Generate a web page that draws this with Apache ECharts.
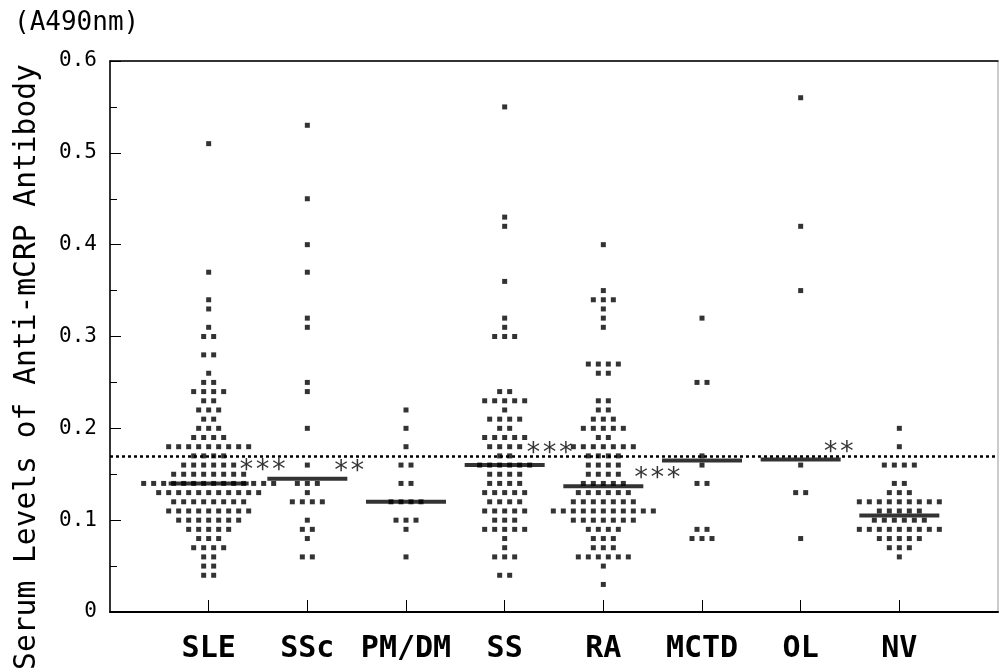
<!DOCTYPE html>
<html>
<head>
<meta charset="utf-8">
<script src="https://cdn.jsdelivr.net/npm/echarts@6/dist/echarts.min.js"></script>
<style>
html, body { margin: 0; padding: 0; background: #fff; }
#chart-container { width: 999px; height: 671px; }
</style>
</head>
<body>
<div id="chart-container"></div>
<script>
// groups along the x axis
var categories = ['SLE', 'SSc', 'PM/DM', 'SS', 'RA', 'MCTD', 'OL', 'NV'];

// each group: [A490nm level, number of subjects at that level]
var sle = [[0.51, 1], [0.37, 1], [0.34, 1], [0.33, 1], [0.31, 1], [0.30, 2], [0.28, 2], [0.26, 1],
    [0.25, 2], [0.24, 4], [0.23, 2], [0.22, 3], [0.21, 2], [0.20, 3], [0.19, 4], [0.18, 9],
    [0.17, 4], [0.16, 6], [0.15, 8], [0.14, 14], [0.13, 11], [0.12, 8], [0.11, 9], [0.10, 7],
    [0.09, 5], [0.08, 3], [0.07, 4], [0.06, 2], [0.05, 2], [0.04, 2]];
var ssc = [[0.53, 1], [0.45, 1], [0.40, 1], [0.37, 1], [0.32, 1], [0.31, 1], [0.25, 1], [0.24, 1],
    [0.20, 1], [0.16, 1], [0.14, 3], [0.13, 1], [0.12, 4], [0.10, 1], [0.09, 2], [0.08, 1], [0.06, 2]];
var pmdm = [[0.22, 1], [0.20, 1], [0.18, 1], [0.16, 2], [0.14, 2], [0.12, 4], [0.10, 3], [0.09, 1], [0.06, 1]];
var ss = [[0.55, 1], [0.43, 1], [0.42, 1], [0.36, 1], [0.32, 1], [0.31, 1], [0.30, 3], [0.24, 2],
    [0.23, 5], [0.22, 1], [0.21, 4], [0.20, 2], [0.19, 5], [0.18, 4], [0.17, 2], [0.16, 6],
    [0.15, 4], [0.14, 4], [0.13, 5], [0.12, 4], [0.11, 5], [0.10, 3], [0.09, 5], [0.08, 1],
    [0.07, 1], [0.06, 3], [0.04, 2]];
var ra = [[0.40, 1], [0.35, 1], [0.34, 3], [0.33, 1], [0.32, 1], [0.31, 1], [0.27, 4], [0.26, 2],
    [0.23, 2], [0.22, 2], [0.21, 3], [0.20, 5], [0.19, 2], [0.18, 7], [0.17, 4], [0.16, 4],
    [0.15, 4], [0.14, 5], [0.13, 6], [0.12, 7], [0.11, 11], [0.10, 7], [0.09, 4], [0.08, 3],
    [0.07, 3], [0.06, 6], [0.05, 1], [0.03, 1]];
var mctd = [[0.32, 1], [0.25, 2], [0.17, 1], [0.16, 1], [0.14, 2], [0.09, 2], [0.08, 3]];
var ol = [[0.56, 1], [0.42, 1], [0.35, 1], [0.16, 1], [0.13, 2], [0.08, 1]];
var nv = [[0.20, 1], [0.18, 1], [0.16, 4], [0.14, 2], [0.13, 3], [0.12, 9], [0.11, 5], [0.10, 6],
    [0.09, 9], [0.08, 5], [0.07, 3], [0.06, 1]];

var groups = [sle, ssc, pmdm, ss, ra, mctd, ol, nv];
var medians = [0.14, 0.145, 0.12, 0.16, 0.137, 0.165, 0.166, 0.105];
var cutoff = 0.17;

// significance marks and the level they sit at
var stars = ['***', '**', '', '***', '***', '', '**', ''];
var starLevels = [0.16, 0.159, null, 0.179, 0.151, null, 0.18, null];

// layout (pixels)
var starShift = [54, 42, 0, 45, 54, 0, 38, 0];
var dotGap = 10;

var dom = document.getElementById('chart-container');
var myChart = echarts.init(dom, null, { renderer: 'canvas' });

var mono = 'DejaVu Sans Mono';

var dots = [];
groups.forEach(function (g, i) {
    g.forEach(function (row) {
        var n = row[1];
        for (var k = 0; k < n; k++) {
            dots.push({
                value: [i, row[0]],
                symbolOffset: [(k - (n - 1) / 2) * dotGap, 0]
            });
        }
    });
});

var medianData = medians.map(function (m, i) { return [i, m]; });

var starData = [];
stars.forEach(function (s, i) {
    if (!s) return;
    starData.push({
        value: [i, starLevels[i]],
        label: { formatter: s, offset: [starShift[i], 6] }
    });
});

var ticks = categories.map(function (c, i) { return i; });

var option = {
    animation: false,
    grid: {
        left: 110, right: 1, top: 61, bottom: 59,
        show: true, borderColor: '#999', borderWidth: 1
    },
    xAxis: [{
        type: 'value',
        min: -1, max: 8,
        axisLine: { show: true, onZero: false, lineStyle: { color: '#000', width: 2 } },
        axisTick: { show: true, inside: true, length: 12, customValues: ticks, lineStyle: { color: '#000', width: 1 } },
        axisLabel: {
            customValues: ticks,
            formatter: function (v) { return categories[v]; },
            margin: 22,
            color: '#000',
            fontFamily: mono,
            fontWeight: 'bold',
            fontSize: 30
        },
        splitLine: { show: false }
    }, {
        type: 'value',
        position: 'top',
        min: -1, max: 8,
        axisLine: { show: true, onZero: false, lineStyle: { color: '#000', width: 1.5 } },
        axisTick: { show: false },
        axisLabel: { show: false },
        splitLine: { show: false }
    }],
    yAxis: {
        type: 'value',
        min: 0, max: 0.6, interval: 0.1,
        axisLine: { show: true, onZero: false, lineStyle: { color: '#000', width: 1.5 } },
        axisTick: { show: true, inside: true, length: 11, lineStyle: { color: '#000' } },
        minorTick: { show: true, splitNumber: 2, length: 7, lineStyle: { color: '#000' } },
        axisLabel: {
            color: '#000',
            fontFamily: mono,
            fontSize: 21,
            margin: 13,
            formatter: function (v) { return v === 0 ? '0' : v.toFixed(1); }
        },
        splitLine: { show: false }
    },
    graphic: [{
        type: 'text',
        left: 14, top: 10,
        style: { text: '(A490nm)', fontFamily: mono, fontSize: 26, fill: '#000' }
    }, {
        type: 'text',
        x: 27, y: 367,
        rotation: Math.PI / 2,
        style: {
            text: 'Serum Levels of Anti-mCRP Antibody',
            fontFamily: mono, fontSize: 29.6, fill: '#000',
            align: 'center', verticalAlign: 'middle'
        }
    }],
    series: [{
        name: 'subjects',
        type: 'scatter',
        symbol: 'rect',
        symbolSize: 5,
        itemStyle: { color: '#000' },
        data: dots,
        markLine: {
            silent: true,
            symbol: ['none', 'none'],
            label: { show: false },
            lineStyle: { color: '#000', type: [3, 3], width: 2.5 },
            data: [{ yAxis: cutoff }]
        }
    }, {
        name: 'median',
        type: 'scatter',
        symbol: 'rect',
        symbolSize: [80, 4],
        itemStyle: { color: '#000' },
        data: medianData,
        z: 3
    }, {
        name: 'significance',
        type: 'scatter',
        symbolSize: 0,
        data: starData,
        label: {
            show: true,
            position: 'inside',
            color: '#000',
            fontFamily: mono,
            fontSize: 27
        },
        z: 4
    }]
};

myChart.setOption(option);
window.addEventListener('resize', myChart.resize);
</script>
</body>
</html>
